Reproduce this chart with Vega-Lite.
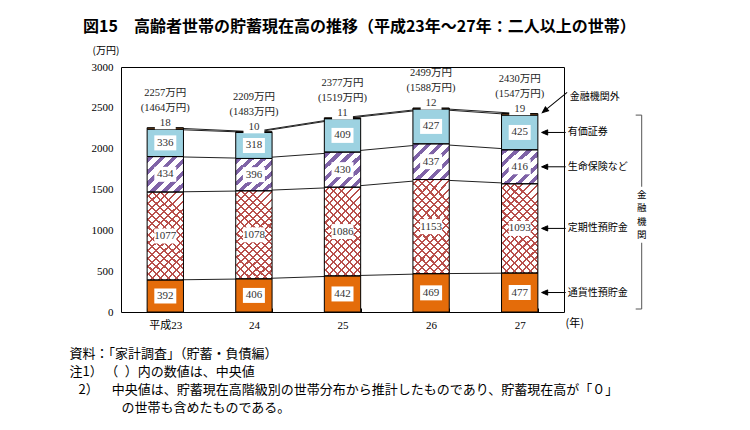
{
"$schema":"https://vega.github.io/schema/vega-lite/v6.json",
"width":443,"height":245,"autosize":"none",
"padding":{"left":121,"top":67,"right":186,"bottom":118},
"background":"#ffffff",
"config":{"view":{"stroke":"#000000","strokeWidth":1},"text":{"font":"Noto Sans CJK JP"},
"axisY":{"tickCount":6,"format":"d","grid":false,"ticks":false,"domain":false,"labelFont":"Liberation Serif","labelFontSize":11,"labelColor":"#000000","labelPadding":8,
"titleAngle":0,"titleAlign":"left","titleBaseline":"middle","titleX":-29,"titleY":-17,"titleFont":"Noto Sans CJK JP","titleFontSize":10,"titleFontWeight":"normal","titleColor":"#000000"}},
"title":{"text":"図15　高齢者世帯の貯蓄現在高の推移（平成23年～27年：二人以上の世帯）","anchor":"start","frame":"group","dx":-38,"offset":10,"font":"Noto Sans CJK JP","fontSize":16,"fontWeight":"bold","color":"#000000"},
"datasets":{
"s":[
{"year":"平成23","cat":"通貨性預貯金","value":392,"order":1},
{"year":"平成23","cat":"定期性預貯金","value":1077,"order":2},
{"year":"平成23","cat":"生命保険など","value":434,"order":3},
{"year":"平成23","cat":"有価証券","value":336,"order":4},
{"year":"平成23","cat":"金融機関外","value":18,"order":5},
{"year":"24","cat":"通貨性預貯金","value":406,"order":1},
{"year":"24","cat":"定期性預貯金","value":1078,"order":2},
{"year":"24","cat":"生命保険など","value":396,"order":3},
{"year":"24","cat":"有価証券","value":318,"order":4},
{"year":"24","cat":"金融機関外","value":10,"order":5},
{"year":"25","cat":"通貨性預貯金","value":442,"order":1},
{"year":"25","cat":"定期性預貯金","value":1086,"order":2},
{"year":"25","cat":"生命保険など","value":430,"order":3},
{"year":"25","cat":"有価証券","value":409,"order":4},
{"year":"25","cat":"金融機関外","value":11,"order":5},
{"year":"26","cat":"通貨性預貯金","value":469,"order":1},
{"year":"26","cat":"定期性預貯金","value":1153,"order":2},
{"year":"26","cat":"生命保険など","value":437,"order":3},
{"year":"26","cat":"有価証券","value":427,"order":4},
{"year":"26","cat":"金融機関外","value":12,"order":5},
{"year":"27","cat":"通貨性預貯金","value":477,"order":1},
{"year":"27","cat":"定期性預貯金","value":1093,"order":2},
{"year":"27","cat":"生命保険など","value":416,"order":3},
{"year":"27","cat":"有価証券","value":425,"order":4},
{"year":"27","cat":"金融機関外","value":19,"order":5}
],
"t":[
{"year":"平成23","total":2257,"l1":"2257万円","l2":"(1464万円)"},
{"year":"24","total":2209,"l1":"2209万円","l2":"(1483万円)"},
{"year":"25","total":2377,"l1":"2377万円","l2":"(1519万円)"},
{"year":"26","total":2499,"l1":"2499万円","l2":"(1588万円)"},
{"year":"27","total":2430,"l1":"2430万円","l2":"(1547万円)"}
]
},
"encoding":{"x":{"field":"year","type":"nominal","sort":["平成23","24","25","26","27"],"scale":{"paddingInner":0.59},
"axis":{"title":["資料：「家計調査」（貯蓄・負債編）","注1）\u2009（\u2002）内の数値は、中央値","\u200b\u2002\u20092）\u3000\u2002中央値は、貯蓄現在高階級別の世帯分布から推計したものであり、貯蓄現在高が「０」","\u200b\u3000\u3000\u3000\u3000の世帯も含めたものである。"],
"labelAngle":0,"labelFont":"Liberation Serif, Noto Sans CJK JP","labelFontSize":11,"labelColor":"#000000","labelPadding":11,"domain":false,"tickBand":"extent","tickSize":-4,"tickColor":"#000000",
"titleFont":"Noto Sans CJK JP","titleFontSize":13,"titleFontWeight":"normal","titleColor":"#000000","titleAnchor":"start","titleAlign":"left","titleBaseline":"top","titleX":-52,"titleY":35,"titleLineHeight":18}}},
"layer":[
{"data":{"name":"s"},"transform":[{"stack":"value","groupby":["year"],"sort":[{"field":"order","order":"ascending"}],"as":["y0","y1"]}],
"mark":{"type":"line","color":"#222222","strokeWidth":1},
"encoding":{"y":{"field":"y1","type":"quantitative","title":"(万円)","scale":{"domain":[0,3000],"nice":false}},
"detail":{"field":"cat","type":"nominal"}}},
{"data":{"name":"s"},"transform":[{"stack":"value","groupby":["year"],"sort":[{"field":"order","order":"ascending"}],"as":["y0","y1"]}],
"mark":{"type":"bar"},
"encoding":{"y":{"field":"y0","type":"quantitative","title":"(万円)"},"y2":{"field":"y1"},
"color":{"field":"cat","type":"nominal","legend":null,"scale":{"domain":["通貨性預貯金","定期性預貯金","生命保険など","有価証券","金融機関外"],"range":["#e46c0a","#ffffff","#ffffff","#9dd2e1","#e8883a"]}}}},
{"data":{"name":"s"},"transform":[{"stack":"value","groupby":["year"],"sort":[{"field":"order","order":"ascending"}],"as":["y0","y1"]},{"filter":"datum.cat === '定期性預貯金'"}],
"mark":{"type":"bar","color":{"gradient":"linear","x1":0,"y1":0,"x2":0.5,"y2":1.25,"stops":[
{"offset":0,"color":"#ffffff"},
{"offset":0.03,"color":"#ffffff"},{"offset":0.03,"color":"#b9504c"},{"offset":0.046,"color":"#b9504c"},{"offset":0.046,"color":"#ffffff"},
{"offset":0.091,"color":"#ffffff"},{"offset":0.091,"color":"#b9504c"},{"offset":0.107,"color":"#b9504c"},{"offset":0.107,"color":"#ffffff"},
{"offset":0.153,"color":"#ffffff"},{"offset":0.153,"color":"#b9504c"},{"offset":0.169,"color":"#b9504c"},{"offset":0.169,"color":"#ffffff"},
{"offset":0.214,"color":"#ffffff"},{"offset":0.214,"color":"#b9504c"},{"offset":0.23,"color":"#b9504c"},{"offset":0.23,"color":"#ffffff"},
{"offset":0.275,"color":"#ffffff"},{"offset":0.275,"color":"#b9504c"},{"offset":0.291,"color":"#b9504c"},{"offset":0.291,"color":"#ffffff"},
{"offset":0.337,"color":"#ffffff"},{"offset":0.337,"color":"#b9504c"},{"offset":0.353,"color":"#b9504c"},{"offset":0.353,"color":"#ffffff"},
{"offset":0.398,"color":"#ffffff"},{"offset":0.398,"color":"#b9504c"},{"offset":0.414,"color":"#b9504c"},{"offset":0.414,"color":"#ffffff"},
{"offset":0.459,"color":"#ffffff"},{"offset":0.459,"color":"#b9504c"},{"offset":0.475,"color":"#b9504c"},{"offset":0.475,"color":"#ffffff"},
{"offset":0.52,"color":"#ffffff"},{"offset":0.52,"color":"#b9504c"},{"offset":0.536,"color":"#b9504c"},{"offset":0.536,"color":"#ffffff"},
{"offset":0.582,"color":"#ffffff"},{"offset":0.582,"color":"#b9504c"},{"offset":0.598,"color":"#b9504c"},{"offset":0.598,"color":"#ffffff"},
{"offset":0.643,"color":"#ffffff"},{"offset":0.643,"color":"#b9504c"},{"offset":0.659,"color":"#b9504c"},{"offset":0.659,"color":"#ffffff"},
{"offset":0.704,"color":"#ffffff"},{"offset":0.704,"color":"#b9504c"},{"offset":0.72,"color":"#b9504c"},{"offset":0.72,"color":"#ffffff"},
{"offset":0.766,"color":"#ffffff"},{"offset":0.766,"color":"#b9504c"},{"offset":0.782,"color":"#b9504c"},{"offset":0.782,"color":"#ffffff"},
{"offset":0.827,"color":"#ffffff"},{"offset":0.827,"color":"#b9504c"},{"offset":0.843,"color":"#b9504c"},{"offset":0.843,"color":"#ffffff"},
{"offset":0.888,"color":"#ffffff"},{"offset":0.888,"color":"#b9504c"},{"offset":0.904,"color":"#b9504c"},{"offset":0.904,"color":"#ffffff"},
{"offset":0.95,"color":"#ffffff"},{"offset":0.95,"color":"#b9504c"},{"offset":0.966,"color":"#b9504c"},{"offset":0.966,"color":"#ffffff"},
{"offset":1,"color":"#ffffff"}]}},
"encoding":{"y":{"field":"y0","type":"quantitative","title":"(万円)"},"y2":{"field":"y1"}}},
{"data":{"name":"s"},"transform":[{"stack":"value","groupby":["year"],"sort":[{"field":"order","order":"ascending"}],"as":["y0","y1"]},{"filter":"datum.cat === '定期性預貯金'"}],
"mark":{"type":"bar","color":{"gradient":"linear","x1":0.5,"y1":0,"x2":0,"y2":1.25,"stops":[
{"offset":0,"color":"rgba(255,255,255,0)"},
{"offset":0.03,"color":"rgba(255,255,255,0)"},{"offset":0.03,"color":"#b9504c"},{"offset":0.046,"color":"#b9504c"},{"offset":0.046,"color":"rgba(255,255,255,0)"},
{"offset":0.091,"color":"rgba(255,255,255,0)"},{"offset":0.091,"color":"#b9504c"},{"offset":0.107,"color":"#b9504c"},{"offset":0.107,"color":"rgba(255,255,255,0)"},
{"offset":0.153,"color":"rgba(255,255,255,0)"},{"offset":0.153,"color":"#b9504c"},{"offset":0.169,"color":"#b9504c"},{"offset":0.169,"color":"rgba(255,255,255,0)"},
{"offset":0.214,"color":"rgba(255,255,255,0)"},{"offset":0.214,"color":"#b9504c"},{"offset":0.23,"color":"#b9504c"},{"offset":0.23,"color":"rgba(255,255,255,0)"},
{"offset":0.275,"color":"rgba(255,255,255,0)"},{"offset":0.275,"color":"#b9504c"},{"offset":0.291,"color":"#b9504c"},{"offset":0.291,"color":"rgba(255,255,255,0)"},
{"offset":0.337,"color":"rgba(255,255,255,0)"},{"offset":0.337,"color":"#b9504c"},{"offset":0.353,"color":"#b9504c"},{"offset":0.353,"color":"rgba(255,255,255,0)"},
{"offset":0.398,"color":"rgba(255,255,255,0)"},{"offset":0.398,"color":"#b9504c"},{"offset":0.414,"color":"#b9504c"},{"offset":0.414,"color":"rgba(255,255,255,0)"},
{"offset":0.459,"color":"rgba(255,255,255,0)"},{"offset":0.459,"color":"#b9504c"},{"offset":0.475,"color":"#b9504c"},{"offset":0.475,"color":"rgba(255,255,255,0)"},
{"offset":0.52,"color":"rgba(255,255,255,0)"},{"offset":0.52,"color":"#b9504c"},{"offset":0.536,"color":"#b9504c"},{"offset":0.536,"color":"rgba(255,255,255,0)"},
{"offset":0.582,"color":"rgba(255,255,255,0)"},{"offset":0.582,"color":"#b9504c"},{"offset":0.598,"color":"#b9504c"},{"offset":0.598,"color":"rgba(255,255,255,0)"},
{"offset":0.643,"color":"rgba(255,255,255,0)"},{"offset":0.643,"color":"#b9504c"},{"offset":0.659,"color":"#b9504c"},{"offset":0.659,"color":"rgba(255,255,255,0)"},
{"offset":0.704,"color":"rgba(255,255,255,0)"},{"offset":0.704,"color":"#b9504c"},{"offset":0.72,"color":"#b9504c"},{"offset":0.72,"color":"rgba(255,255,255,0)"},
{"offset":0.766,"color":"rgba(255,255,255,0)"},{"offset":0.766,"color":"#b9504c"},{"offset":0.782,"color":"#b9504c"},{"offset":0.782,"color":"rgba(255,255,255,0)"},
{"offset":0.827,"color":"rgba(255,255,255,0)"},{"offset":0.827,"color":"#b9504c"},{"offset":0.843,"color":"#b9504c"},{"offset":0.843,"color":"rgba(255,255,255,0)"},
{"offset":1,"color":"rgba(255,255,255,0)"}]}},
"encoding":{"y":{"field":"y0","type":"quantitative","title":"(万円)"},"y2":{"field":"y1"}}},
{"data":{"name":"s"},"transform":[{"stack":"value","groupby":["year"],"sort":[{"field":"order","order":"ascending"}],"as":["y0","y1"]},{"filter":"datum.cat === '生命保険など'"}],
"mark":{"type":"bar","color":{"gradient":"linear","x1":0,"y1":0,"x2":1,"y2":1,"stops":[
{"offset":0,"color":"#ffffff"},
{"offset":0.02,"color":"#ffffff"},{"offset":0.02,"color":"#7f63a7"},{"offset":0.095,"color":"#7f63a7"},{"offset":0.095,"color":"#ffffff"},
{"offset":0.187,"color":"#ffffff"},{"offset":0.187,"color":"#7f63a7"},{"offset":0.262,"color":"#7f63a7"},{"offset":0.262,"color":"#ffffff"},
{"offset":0.353,"color":"#ffffff"},{"offset":0.353,"color":"#7f63a7"},{"offset":0.428,"color":"#7f63a7"},{"offset":0.428,"color":"#ffffff"},
{"offset":0.52,"color":"#ffffff"},{"offset":0.52,"color":"#7f63a7"},{"offset":0.595,"color":"#7f63a7"},{"offset":0.595,"color":"#ffffff"},
{"offset":0.687,"color":"#ffffff"},{"offset":0.687,"color":"#7f63a7"},{"offset":0.762,"color":"#7f63a7"},{"offset":0.762,"color":"#ffffff"},
{"offset":0.853,"color":"#ffffff"},{"offset":0.853,"color":"#7f63a7"},{"offset":0.928,"color":"#7f63a7"},{"offset":0.928,"color":"#ffffff"},
{"offset":1,"color":"#ffffff"}]}},
"encoding":{"y":{"field":"y0","type":"quantitative","title":"(万円)"},"y2":{"field":"y1"}}},
{"data":{"name":"s"},"transform":[{"stack":"value","groupby":["year"],"sort":[{"field":"order","order":"ascending"}],"as":["y0","y1"]}],
"mark":{"type":"bar","fill":"transparent","stroke":"#000000","strokeWidth":1},
"encoding":{"y":{"field":"y0","type":"quantitative","title":"(万円)"},"y2":{"field":"y1"}}},
{"data":{"name":"s"},"transform":[{"stack":"value","groupby":["year"],"sort":[{"field":"order","order":"ascending"}],"as":["y0","y1"]},{"filter":"datum.cat !== '金融機関外'"},{"fold":["y0","y1"],"as":["k","v"]},{"aggregate":[{"op":"mean","field":"v","as":"mid"}],"groupby":["year","cat","value"]}],
"mark":{"type":"point","shape":"M-1.1,-0.75H1.1V0.75H-1.1Z","size":400,"filled":true,"fill":"#ffffff","strokeWidth":0,"opacity":1},
"encoding":{"y":{"field":"mid","type":"quantitative","title":"(万円)"}}},
{"data":{"name":"s"},"transform":[{"stack":"value","groupby":["year"],"sort":[{"field":"order","order":"ascending"}],"as":["y0","y1"]},{"filter":"datum.cat !== '金融機関外'"},{"fold":["y0","y1"],"as":["k","v"]},{"aggregate":[{"op":"mean","field":"v","as":"mid"}],"groupby":["year","cat","value"]}],
"mark":{"type":"text","font":"Liberation Serif","fontSize":11,"color":"#333333","baseline":"middle"},
"encoding":{"y":{"field":"mid","type":"quantitative","title":"(万円)"},"text":{"field":"value","type":"quantitative"}}},
{"data":{"name":"s"},"transform":[{"stack":"value","groupby":["year"],"sort":[{"field":"order","order":"ascending"}],"as":["y0","y1"]},{"filter":"datum.cat === '金融機関外'"}],
"mark":{"type":"point","shape":"M-1.1,-0.7H1.1V0.7H-1.1Z","size":360,"filled":true,"fill":"#ffffff","strokeWidth":0,"opacity":1,"yOffset":-5},
"encoding":{"y":{"field":"y1","type":"quantitative","title":"(万円)"}}},
{"data":{"name":"s"},"transform":[{"stack":"value","groupby":["year"],"sort":[{"field":"order","order":"ascending"}],"as":["y0","y1"]},{"filter":"datum.cat === '金融機関外'"}],
"mark":{"type":"text","font":"Liberation Serif","fontSize":11,"color":"#333333","baseline":"middle","dy":-5},
"encoding":{"y":{"field":"y1","type":"quantitative","title":"(万円)"},"text":{"field":"value","type":"quantitative"}}},
{"data":{"name":"t"},
"mark":{"type":"text","font":"Liberation Serif, Noto Sans CJK JP","fontSize":10.5,"color":"#222222","baseline":"middle","dy":-35},
"encoding":{"y":{"field":"total","type":"quantitative","title":"(万円)"},"text":{"field":"l1","type":"nominal"}}},
{"data":{"name":"t"},
"mark":{"type":"text","font":"Liberation Serif, Noto Sans CJK JP","fontSize":10.5,"color":"#222222","baseline":"middle","dy":-20},
"encoding":{"y":{"field":"total","type":"quantitative","title":"(万円)"},"text":{"field":"l2","type":"nominal"}}},
{"data":{"name":"s"},"transform":[{"stack":"value","groupby":["year"],"sort":[{"field":"order","order":"ascending"}],"as":["y0","y1"]},{"filter":"datum.year === '27' && datum.cat !== '金融機関外'"},{"fold":["y0","y1"],"as":["k","v"]},{"aggregate":[{"op":"mean","field":"v","as":"mid"}],"groupby":["year","cat","value"]}],
"mark":{"type":"text","font":"Noto Sans CJK JP","fontSize":10,"color":"#000000","align":"left","baseline":"middle","dx":48},
"encoding":{"y":{"field":"mid","type":"quantitative","title":"(万円)"},"text":{"field":"cat","type":"nominal"}}},
{"data":{"name":"s"},"transform":[{"stack":"value","groupby":["year"],"sort":[{"field":"order","order":"ascending"}],"as":["y0","y1"]},{"filter":"datum.year === '27' && datum.cat === '金融機関外'"}],
"mark":{"type":"text","font":"Noto Sans CJK JP","fontSize":10,"color":"#000000","align":"left","baseline":"middle","dx":50,"dy":-17},
"encoding":{"y":{"field":"y1","type":"quantitative","title":"(万円)"},"text":{"field":"cat","type":"nominal"}}},
{"data":{"name":"s"},"transform":[{"stack":"value","groupby":["year"],"sort":[{"field":"order","order":"ascending"}],"as":["y0","y1"]},{"filter":"datum.year === '27' && datum.cat !== '金融機関外'"},{"fold":["y0","y1"],"as":["k","v"]},{"aggregate":[{"op":"mean","field":"v","as":"mid"}],"groupby":["year","cat","value"]}],
"mark":{"type":"point","shape":"M1,0L-1,0M-1,0L-0.5,-0.22L-0.5,0.22Z","size":576,"filled":true,"fill":"#000000","stroke":"#000000","strokeWidth":1,"opacity":1,"xOffset":34},
"encoding":{"y":{"field":"mid","type":"quantitative","title":"(万円)"}}},
{"data":{"name":"s"},"transform":[{"stack":"value","groupby":["year"],"sort":[{"field":"order","order":"ascending"}],"as":["y0","y1"]},{"filter":"datum.year === '27' && datum.cat === '金融機関外'"}],
"mark":{"type":"point","shape":"M1,0L-1,0M-1,0L-0.62,-0.16L-0.62,0.16Z","size":1024,"filled":true,"fill":"#000000","stroke":"#000000","strokeWidth":1,"opacity":1,"xOffset":35,"yOffset":-11,"angle":321},
"encoding":{"y":{"field":"y1","type":"quantitative","title":"(万円)"}}},
{"data":{"name":"s"},"transform":[{"stack":"value","groupby":["year"],"sort":[{"field":"order","order":"ascending"}],"as":["y0","y1"]},{"filter":"datum.year === '27' && datum.cat === '有価証券'"}],
"mark":{"type":"rule","color":"#555555","strokeWidth":1,"xOffset":122,"y2Offset":-3},
"encoding":{"y":{"field":"y1","type":"quantitative","title":"(万円)"},"y2":{"datum":0}}},
{"data":{"name":"s"},"transform":[{"stack":"value","groupby":["year"],"sort":[{"field":"order","order":"ascending"}],"as":["y0","y1"]},{"filter":"datum.year === '27' && datum.cat === '有価証券'"}],
"mark":{"type":"rule","color":"#555555","strokeWidth":1,"xOffset":116,"x2Offset":122},
"encoding":{"y":{"field":"y1","type":"quantitative","title":"(万円)"},"x2":{"field":"year"}}},
{"data":{"name":"s"},"transform":[{"filter":"datum.year === '27' && datum.cat === '有価証券'"}],
"mark":{"type":"rule","color":"#555555","strokeWidth":1,"xOffset":116,"x2Offset":122,"yOffset":-3},
"encoding":{"y":{"datum":0,"type":"quantitative","title":"(万円)"},"x2":{"field":"year"}}},
{"data":{"name":"s"},"transform":[{"filter":"datum.year === '27' && datum.cat === '有価証券'"}],
"mark":{"type":"point","shape":"M-0.35,-1H0.35V1H-0.35Z","size":3136,"filled":true,"fill":"#ffffff","strokeWidth":0,"opacity":1,"xOffset":122},
"encoding":{"y":{"datum":1190,"type":"quantitative","title":"(万円)"}}},
{"data":{"name":"s"},"transform":[{"filter":"datum.year === '27' && datum.cat === '有価証券'"}],
"mark":{"type":"text","text":"金\n融\n機\n関","lineBreak":"\n","lineHeight":13.5,"font":"Noto Sans CJK JP","fontSize":9.5,"color":"#000000","align":"center","baseline":"middle","dx":122,"dy":-20},
"encoding":{"y":{"datum":1190,"type":"quantitative","title":"(万円)"}}},
{"data":{"name":"s"},"transform":[{"filter":"datum.year === '27' && datum.cat === '有価証券'"}],
"mark":{"type":"text","text":"(年)","font":"Noto Sans CJK JP","fontSize":11,"color":"#000000","align":"center","baseline":"middle","dx":55,"dy":12},
"encoding":{"y":{"datum":0,"type":"quantitative","title":"(万円)"}}}
]
}
